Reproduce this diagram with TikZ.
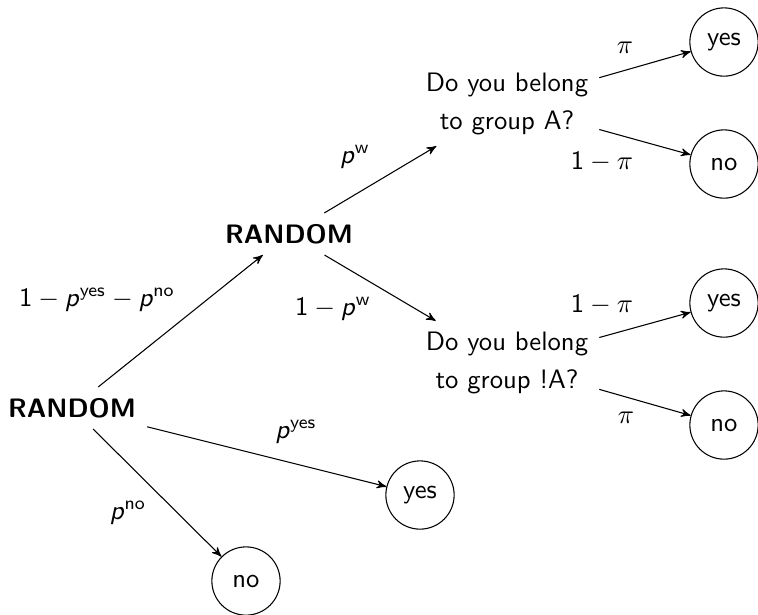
\documentclass[tikz,border=0pt]{standalone}
\usepackage{tikz}
\usetikzlibrary{arrows,positioning,calc}
\DeclareSymbolFont{sfops}{OT1}{cmss}{m}{n}
\DeclareSymbolFont{sfit}{OT1}{cmss}{m}{it}
\DeclareMathSymbol{p}{\mathalpha}{sfit}{`p}
\DeclareMathSymbol{1}{\mathalpha}{sfops}{`1}

\begin{document}
\begin{tikzpicture}[x=0.01318cm,y=-0.01318cm,font=\sffamily,>=stealth',
    ans/.style={draw,circle,minimum size=0.9cm,inner sep=0pt},
    ques/.style={align=center,inner sep=4pt},
    rnd/.style={font=\sffamily\bfseries,inner sep=4pt}]
    \useasboundingbox (0,0) rectangle (758,614);

    % chance nodes and questions
    \node [rnd] (r1) at (72,408) {RANDOM};
    \node [rnd] (r2) at (289,234) {RANDOM};
    \node [ques] (qa) at (507,104) {Do you belong\\[2.25pt]to group A?};
    \node [ques] (qna) at (507,363) {Do you belong\\[2.25pt]to group !A?};

    % answers
    \node [ans] (ya) at (724,42) {yes};
    \node [ans] (na) at (724,164) {no};
    \node [ans] (yna) at (724,303) {yes};
    \node [ans] (nna) at (724,425) {no};
    \node [ans] (y0) at (420,495) {yes};
    \node [ans] (n0) at (246,581) {no};

    % probabilities
    \node (l1) at (97,300) {$1-p^{\mathsf{yes}}-p^{\mathsf{no}}$};
    \node (lw) at (355,157) {$p^{\mathsf{w}}$};
    \node (lnw) at (333,309) {$1-p^{\mathsf{w}}$};
    \node (lpa) at (625,48) {$\pi$};
    \node (lqa) at (602,162) {$1-\pi$};
    \node (lqna) at (602,305) {$1-\pi$};
    \node (lpna) at (626,418) {$\pi$};
    \node (lyes) at (296,432) {$p^{\mathsf{yes}}$};
    \node (lno) at (128,513) {$p^{\mathsf{no}}$};

    \draw [->] (r1) -- (r2);
    \draw [->] (r1) -- (y0);
    \draw [->] (r1) -- (n0);
    \draw [->] (r2) -- (qa);
    \draw [->] (r2) -- (qna);
    \draw [->] (qa) -- (ya);
    \draw [->] (qa) -- (na);
    \draw [->] (qna) -- (yna);
    \draw [->] (qna) -- (nna);
\end{tikzpicture}
\end{document}
